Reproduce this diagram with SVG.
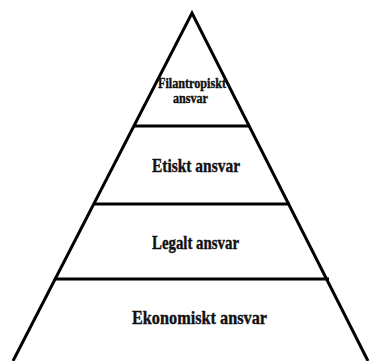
<svg xmlns="http://www.w3.org/2000/svg" width="371" height="361" viewBox="0 0 371 361">
<style>
.edge{stroke:#000;stroke-width:3;fill:none;stroke-linecap:butt}
.t{font-family:"Liberation Serif","Times New Roman",serif;font-weight:bold;fill:#111;stroke:#111;stroke-width:0.4;text-anchor:middle}
</style>
<rect width="371" height="361" fill="#fff"/>
<g id="connectors">
<path class="edge" d="M13,361 L192,13 L368,361"/>
</g>
<g id="filantropiskt">
<line class="edge" x1="133" y1="126" x2="250" y2="126"/>
<text class="t" x="192" y="88" font-size="15" textLength="68" lengthAdjust="spacingAndGlyphs">Filantropiskt</text>
<text class="t" x="190.5" y="103" font-size="15" textLength="35" lengthAdjust="spacingAndGlyphs">ansvar</text>
</g>
<g id="etiskt">
<line class="edge" x1="93" y1="204" x2="290" y2="204"/>
<text class="t" x="196" y="172" font-size="19" textLength="88" lengthAdjust="spacingAndGlyphs">Etiskt ansvar</text>
</g>
<g id="legalt">
<line class="edge" x1="54" y1="279" x2="329" y2="279"/>
<text class="t" x="195.5" y="249" font-size="19" textLength="87" lengthAdjust="spacingAndGlyphs">Legalt ansvar</text>
</g>
<g id="ekonomiskt">
<text class="t" x="199.5" y="324" font-size="19" textLength="135" lengthAdjust="spacingAndGlyphs">Ekonomiskt ansvar</text>
</g>
</svg>
